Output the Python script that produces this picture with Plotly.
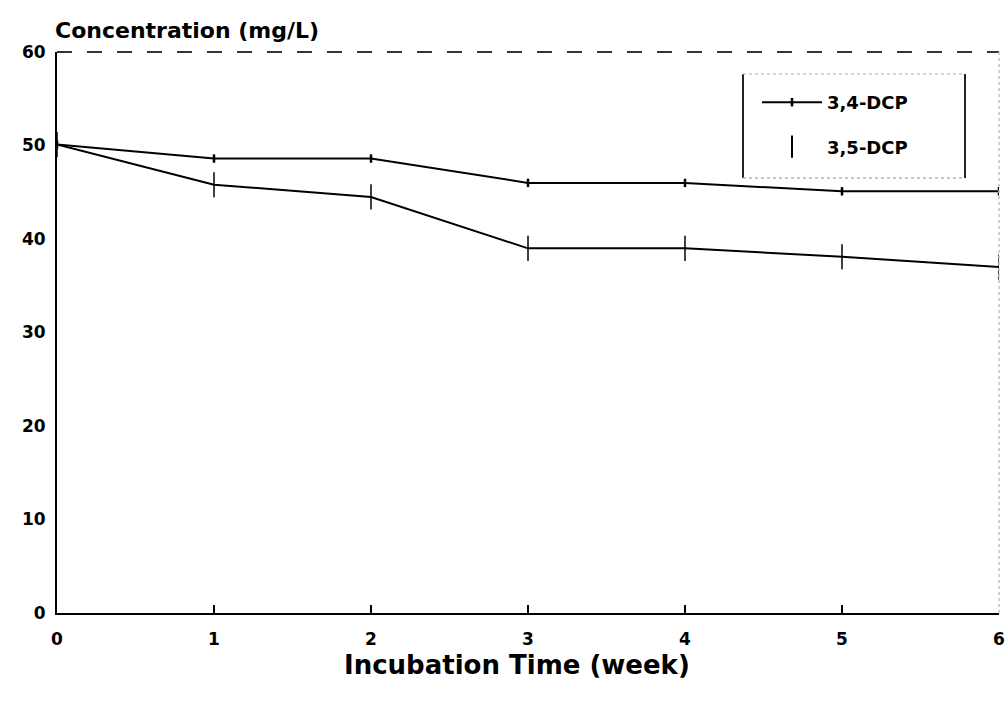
import plotly.graph_objects as go

weeks = [0, 1, 2, 3, 4, 5, 6]
dcp34 = [50.1, 48.6, 48.6, 46.0, 46.0, 45.1, 45.1]
dcp35 = [50.1, 45.8, 44.5, 39.0, 39.0, 38.1, 37.0]
x_ticks = [0, 1, 2, 3, 4, 5, 6]
y_ticks = [0, 10, 20, 30, 40, 50, 60]

FONT = "DejaVu Sans, Verdana, sans-serif"

L, R, T, B = 57, 9, 52, 90
PW, PH = 1008 - L - R, 703 - T - B


def px(xp):
    return (xp - L) / PW


def py(yp):
    return (703 - B - yp) / PH


fig = go.Figure()
fig.add_trace(go.Scatter(
    x=weeks, y=dcp34, name="<b>3,4-DCP</b>", mode="lines+markers",
    line=dict(color="black", width=2),
    marker=dict(symbol="line-ns", size=6, line=dict(color="black", width=2.5)),
    legendgroup="a",
))
fig.add_trace(go.Scatter(
    x=weeks, y=dcp35, name="<b>3,5-DCP</b>", mode="lines+markers",
    line=dict(color="black", width=2),
    marker=dict(symbol="line-ns", size=18, line=dict(color="black", width=1.5)),
    legendgroup="b", showlegend=False,
))
# legend entry showing only the tick marker for 3,5-DCP
fig.add_trace(go.Scatter(
    x=[None], y=[None], name="<b>3,5-DCP</b>", mode="markers",
    marker=dict(symbol="line-ns", size=16, line=dict(color="black", width=2)),
    legendgroup="b",
))

box_l, box_r = px(743), px(965)
box_t, box_b = py(74), py(178)

fig.update_layout(
    width=1008, height=703,
    margin=dict(l=L, r=R, t=T, b=B, autoexpand=False),
    paper_bgcolor="white", plot_bgcolor="white",
    font=dict(family=FONT, color="black", size=14),
    showlegend=True,
    legend=dict(
        x=px(757), y=py(84), xanchor="left", yanchor="top",
        borderwidth=0, bgcolor="rgba(0,0,0,0)",
        font=dict(family=FONT, size=18, color="black"),
        tracegroupgap=18, itemwidth=60,
    ),
    xaxis=dict(
        range=[0, 6], tickvals=x_ticks, ticktext=[f"<b>{v}</b>" for v in x_ticks],
        showgrid=False, zeroline=False, showline=True, linecolor="black", linewidth=2,
        ticks="inside", ticklen=8, tickcolor="black", tickwidth=1.5,
        ticklabelstandoff=10, ticklabeloverflow="allow", automargin=False,
        tickfont=dict(family=FONT, size=17),
    ),
    yaxis=dict(
        range=[0, 60], tickvals=y_ticks, ticktext=[f"<b>{v}</b>" for v in y_ticks],
        showgrid=False, zeroline=False, showline=True, linecolor="black", linewidth=2,
        ticks="", tickfont=dict(family=FONT, size=17), ticklabelstandoff=6,
        automargin=False,
    ),
    shapes=[
        # top frame
        dict(type="line", xref="paper", yref="paper", x0=0, x1=1, y0=1, y1=1,
             line=dict(color="#333344", width=2, dash="longdash")),
        # right frame
        dict(type="line", xref="paper", yref="paper", x0=1, x1=1, y0=0, y1=1,
             line=dict(color="#c0c0d8", width=1.5, dash="dot")),
        # legend box
        dict(type="line", xref="paper", yref="paper", x0=box_l, x1=box_l, y0=box_b, y1=box_t,
             line=dict(color="#222233", width=2)),
        dict(type="line", xref="paper", yref="paper", x0=box_r, x1=box_r, y0=box_b, y1=box_t,
             line=dict(color="#222233", width=2)),
        dict(type="line", xref="paper", yref="paper", x0=box_l, x1=box_r, y0=box_t, y1=box_t,
             line=dict(color="#c8c8dc", width=1.5, dash="dot")),
        dict(type="line", xref="paper", yref="paper", x0=box_l, x1=box_r, y0=box_b, y1=box_b,
             line=dict(color="#b0b0c8", width=1.5, dash="dot")),
    ],
    annotations=[
        dict(text="<b>Concentration (mg/L)</b>", xref="paper", yref="paper",
             x=-0.004, y=1, xanchor="left", yanchor="bottom", yshift=7, showarrow=False,
             font=dict(family=FONT, size=22, color="black")),
        dict(text="<b>Incubation Time (week)</b>", xref="paper", yref="paper",
             x=px(517), y=0, xanchor="center", yanchor="middle", yshift=-52,
             showarrow=False, font=dict(family=FONT, size=26, color="black")),
    ],
)

fig.write_html("out.html")
